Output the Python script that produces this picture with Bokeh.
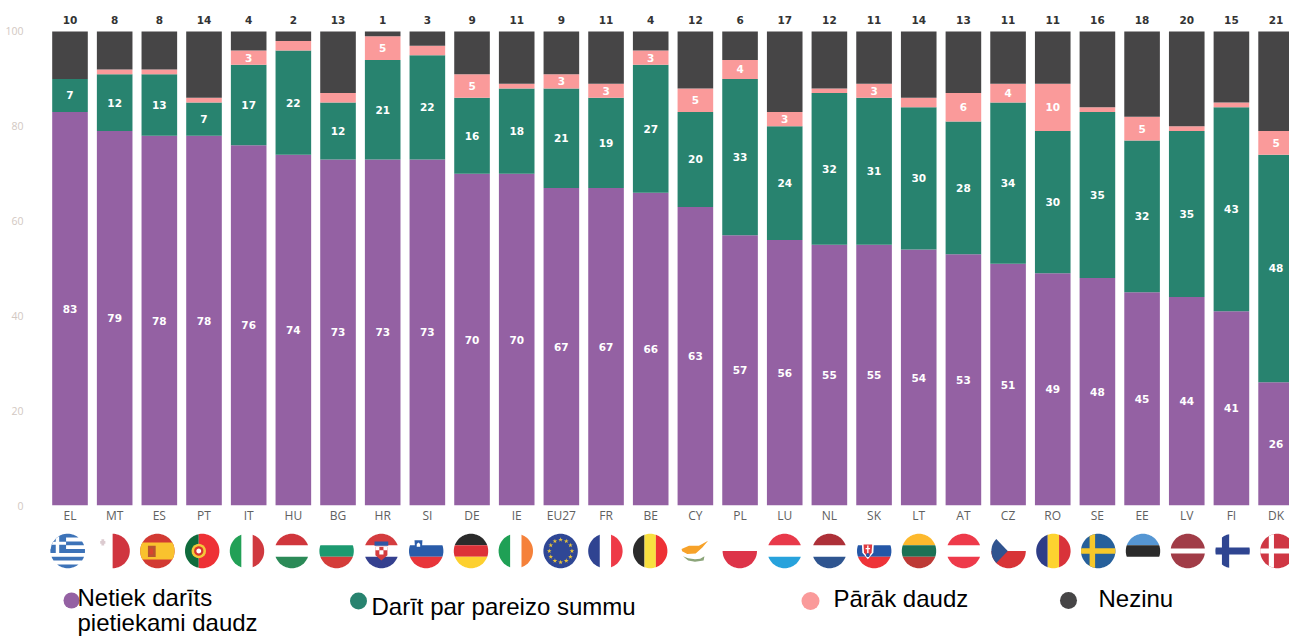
import numpy as np
from bokeh.embed import file_html
from bokeh.resources import INLINE
from bokeh.plotting import figure
from bokeh.layouts import column
from bokeh.models import Range1d, FixedTicker, ColumnDataSource
from bokeh.core.properties import value

countries = ["EL","MT","ES","PT","IT","HU","BG","HR","SI","DE","IE","EU27","FR","BE","CY","PL","LU","NL","SK","LT","AT","CZ","RO","SE","EE","LV","FI","DK"]
not_enough = [83,79,78,78,76,74,73,73,73,70,70,67,67,66,63,57,56,55,55,54,53,51,49,48,45,44,41,26]
right_amount = [7,12,13,7,17,22,12,21,22,16,18,21,19,27,20,33,24,32,31,30,28,34,30,35,32,35,43,48]
too_much = [0,1,1,1,3,2,2,5,2,5,1,3,3,3,5,4,3,1,3,2,6,4,10,1,5,1,1,5]
dont_know = [10,8,8,14,4,2,13,1,3,9,11,9,11,4,12,6,17,12,11,14,13,11,11,16,18,20,15,21]
y_ticks = [0,20,40,60,80,100]
series_names = ["Netiek darīts pietiekami daudz","Darīt par pareizo summu","Pārāk daudz","Nezinu"]
series_colors = ["#9461A3","#28836F","#FA9A9A","#464546"]

BAR_X0, BAR_PITCH = 69.5, 44.67
FRAME_L, PAGE_R = 36, 1289
x_range = Range1d((FRAME_L-BAR_X0)/BAR_PITCH, (PAGE_R-BAR_X0)/BAR_PITCH)
LABEL_FONT = "DejaVu Sans"

idx = list(range(len(countries)))
src = ColumnDataSource(dict(x=idx, a=not_enough, b=right_amount, c=too_much, d=dont_know))

p = figure(width=1289, height=528, frame_height=505, x_range=x_range, y_range=Range1d(0,106.54),
           output_backend="svg", toolbar_location=None, min_border_left=FRAME_L, min_border_right=0,
           min_border_top=0, min_border_bottom=23)
p.outline_line_color = None
p.grid.visible = False
p.background_fill_color = None
p.vbar_stack(["a","b","c","d"], x="x", width=0.797, color=series_colors, source=src, line_color=None)

p.xaxis.ticker = FixedTicker(ticks=idx)
p.xaxis.major_label_overrides = {i:c for i,c in enumerate(countries)}
p.xaxis.axis_line_color = None
p.xaxis.major_tick_line_color = None
p.xaxis.minor_tick_line_color = None
p.xaxis.major_label_standoff = -5
p.xaxis.major_label_text_font_size = "12px"
p.xaxis.major_label_text_color = "#606060"
p.xaxis.major_label_text_font = "Open Sans"
p.yaxis.ticker = FixedTicker(ticks=y_ticks)
p.yaxis.axis_line_color = None
p.yaxis.major_tick_line_color = None
p.yaxis.minor_tick_line_color = None
p.yaxis.major_label_standoff = 7
p.yaxis.major_label_text_font_size = "10.5px"
p.yaxis.major_label_text_color = "#d2c8c2"
p.yaxis.major_label_text_font = "Open Sans"

def seg_labels(xs, ys, vals, color="#ffffff", size="10.5px"):
    p.text(xs, ys, text=[str(v) for v in vals], text_align="center", text_baseline="middle",
           text_color=color, text_font=value(LABEL_FONT), text_font_style="bold", text_font_size=size)

seg_labels(idx, [v/2 for v in not_enough], not_enough)
seg_labels(idx, [a+b/2 for a,b in zip(not_enough,right_amount)], right_amount)
pk = [i for i in idx if too_much[i] >= 3]
seg_labels(pk, [not_enough[i]+right_amount[i]+too_much[i]/2 for i in pk], [too_much[i] for i in pk])
seg_labels(idx, [102.5]*len(idx), dont_know, color="#333333")

# ---- flags and legend (second figure: y in page pixels from the bottom)
H = 108
PAGE_B = 636
q = figure(width=1289, height=H, frame_height=H, x_range=x_range, y_range=Range1d(0,H),
           x_axis_type=None, y_axis_type=None, output_backend="svg", toolbar_location=None,
           min_border_left=FRAME_L, min_border_right=0, min_border_top=0, min_border_bottom=0)
q.outline_line_color = None
q.grid.visible = False
q.background_fill_color = None

FLAG_R, FLAG_CY = 17.2, PAGE_B-550.5
FLAG_X0, FLAG_PITCH = 67.3, 44.8
th = np.linspace(0, 2*np.pi, 72, endpoint=False)
CIRCLE = list(zip(np.cos(th), np.sin(th)))

def clip(subject):
    out = list(subject)
    n = len(CIRCLE)
    for k in range(n):
        a, b = CIRCLE[k], CIRCLE[(k+1) % n]
        inside = lambda P: (b[0]-a[0])*(P[1]-a[1])-(b[1]-a[1])*(P[0]-a[0]) >= 0
        cur, out = out, []
        if not cur: break
        for j in range(len(cur)):
            P, Q = cur[j], cur[(j+1) % len(cur)]
            ip, iq = inside(P), inside(Q)
            if ip != iq:
                d1 = (b[0]-a[0], b[1]-a[1]); d2 = (Q[0]-P[0], Q[1]-P[1])
                t = (d1[0]*(P[1]-a[1])-d1[1]*(P[0]-a[0]))/(d1[1]*d2[0]-d1[0]*d2[1])
                out.append((P[0]+t*d2[0], P[1]+t*d2[1]))
            if iq: out.append(Q)
    return out

def R(u0,v0,u1,v1): return [(u0,v0),(u1,v0),(u1,v1),(u0,v1)]
def H3(a,b,c,t=.34):
    return [(c_,R(-1.1,v0,1.1,v1)) for c_,v0,v1 in ((a,t,1.1),(b,-t,t),(c,-1.1,-t)) if c_]
def V3(a,b,c,t=.33):
    return [(c_,R(u0,-1.1,u1,1.1)) for c_,u0,u1 in ((a,-1.1,-t),(b,-t,t),(c,t,1.1)) if c_]
def disc(cu,cv,r,n=20):
    t = np.linspace(0,2*np.pi,n,endpoint=False)
    return [(cu+r*np.cos(x),cv+r*np.sin(x)) for x in t]

gr_blue = "#3D73B8"
flags = {
 "EL": [(gr_blue,R(-1.1,v,1.1,v+2/9)) for v in (7/9,3/9,-1/9,-5/9,-9/9)]+[(gr_blue,R(-1.1,-1/9,-.1,1.1)),("#ffffff",R(-.7,-1/9,-.5,1.1)),("#ffffff",R(-1.1,.36,-.1,.54))],
 "MT": [("#D0353F",R(0,-1.1,1.1,1.1)),("#DCCBD0",R(-.72,.42,-.42,.58)),("#DCCBD0",R(-.65,.32,-.49,.68))],
 "ES": [("#D23A33",R(-1.1,-1.1,1.1,1.1)),("#F9C22E",R(-1.1,-.5,1.1,.5)),("#B9552F",R(-.55,-.35,-.1,.3)),("#D9442E",R(-.45,-.2,-.25,.15))],
 "PT": [("#0F6B3C",R(-1.1,-1.1,-.2,1.1)),("#EE3135",R(-.2,-1.1,1.1,1.1)),("#F4C93A",disc(-.2,0,.42)),("#D9342F",disc(-.2,0,.27)),("#FFFFFF",disc(-.2,0,.14))],
 "IT": V3("#22A056",None,"#D0393F"),
 "HU": H3("#D0363C",None,"#2B8A57"),
 "BG": H3(None,"#1D9A70","#D43D3A"),
 "HR": H3("#D43C3F",None,"#34408F")+[("#D43C3F",[(-.35,.25),(.35,.25),(.35,-.25),(0,-.55),(-.35,-.25)]),("#FFFFFF",R(-.35,.05,-.12,.25)),("#FFFFFF",R(.12,.05,.35,.25)),("#FFFFFF",R(-.12,-.2,.12,.05)),("#2F57A5",R(-.4,.3,.4,.55))],
 "SI": H3(None,"#2A5CA9","#E8353A")+[("#2A5CA9",[(-.68,.62),(-.22,.62),(-.25,.15),(-.45,0),(-.65,.15)]),("#FFFFFF",[(-.55,.4),(-.45,.5),(-.35,.4),(-.35,.25),(-.55,.25)])],
 "DE": H3("#2B2B2B","#DD3138","#FDD02F"),
 "IE": V3("#1FA055",None,"#F5813A"),
 "EU27": [("#2F4795",R(-1.1,-1.1,1.1,1.1))],
 "FR": V3("#2F4391",None,"#EE3A47"),
 "BE": V3("#2B2B2B","#F8E040","#EE3135"),
 "CY": [("#F7A229",[(-.78,.12),(-.35,.31),(.23,.31),(.76,.6),(.43,.21),(.04,-.14),(-.45,-.18),(-.75,-.02)]),("#8CA57A",[(-.7,-.3),(-.4,-.55),(0,-.62),(.5,-.55),(.55,-.3),(.3,-.45),(0,-.48),(-.4,-.42)])],
 "PL": [("#DD3449",R(-1.1,-1.1,1.1,0))],
 "LU": H3("#E8394A",None,"#27A2DC"),
 "NL": H3("#AD3038",None,"#2F5590"),
 "SK": H3(None,"#2557A7","#EE3338")+[("#FFFFFF",[(-.72,.48),(-.02,.48),(-.05,-.1),(-.37,-.48),(-.69,-.1)]),("#E03A40",[(-.62,.38),(-.12,.38),(-.15,-.08),(-.37,-.36),(-.59,-.08)]),("#FFFFFF",R(-.41,-.15,-.33,.32)),("#FFFFFF",R(-.5,.1,-.24,.18)),("#2557A7",disc(-.37,-.24,.11))],
 "LT": H3("#FDB92D","#1C7155","#BD3A36"),
 "AT": H3("#EE3A4A",None,"#EE3A4A"),
 "CZ": [("#D83437",R(-1.1,-1.1,1.1,0)),("#30538F",[(-1.1,1.1),(-.05,0),(-1.1,-1.1)])],
 "RO": V3("#2E3D87","#FDD32F","#D9333A"),
 "SE": [("#26609B",R(-1.1,-1.1,1.1,1.1)),("#F6C82B",R(-.5,-1.1,-.18,1.1)),("#F6C82B",R(-1.1,-.16,1.1,.16))],
 "EE": H3("#5596D3","#2B2B2B",None),
 "LV": [("#A13C47",R(-1.1,.14,1.1,1.1)),("#A13C47",R(-1.1,-1.1,1.1,-.14))],
 "FI": [("#2F4591",R(-.62,-1.1,-.2,1.1)),("#2F4591",R(-1.1,-.2,1.1,.2))],
 "DK": [("#CF3744",R(-1.1,-1.1,1.1,1.1)),("#FFFFFF",R(-.5,-1.1,-.2,1.1)),("#FFFFFF",R(-1.1,-.15,1.1,.15))],
}

def to_x(i,u): return (FLAG_X0+FLAG_PITCH*i+FLAG_R*u-BAR_X0)/BAR_PITCH
def to_y(v): return FLAG_CY+FLAG_R*v

fx, fy, fc = [], [], []
for i,c in enumerate(countries):
    for color, poly in flags[c]:
        pts = clip(poly)
        if len(pts) < 3: continue
        fx.append([to_x(i,u) for u,_ in pts]); fy.append([to_y(v) for _,v in pts]); fc.append(color)
q.patches(fx, fy, fill_color=fc, line_color=None)

# EU stars
eu = countries.index("EU27")
a = np.linspace(0, 2*np.pi, 12, endpoint=False)
q.scatter([to_x(eu,.66*np.cos(t)) for t in a], [to_y(.66*np.sin(t)) for t in a], marker="star",
          size=5, color="#E9C53A", line_color=None)

# legend: page-pixel placement converted to this figure's coordinates
def px(x): return (x-BAR_X0)/BAR_PITCH
def py(y): return PAGE_B-y
marker_xy = [(71,600),(358,600.5),(810,600.5),(1068,600)]
marker_size = [16,17,18,17]
q.scatter([px(m[0]) for m in marker_xy],[py(m[1]) for m in marker_xy], size=marker_size,
          color=series_colors, line_color=None)
legend_items = [(77,597,"Netiek darīts"),(77,621.5,"pietiekami daudz"),(371,606,series_names[1]),(833,598,series_names[2]),(1098,598,series_names[3])]
q.text([px(t[0]) for t in legend_items],[py(t[1]) for t in legend_items],text=[t[2] for t in legend_items],
       text_font=value("Liberation Sans"),text_font_size="24px",text_color="#000000",
       text_baseline="alphabetic",text_align="left")

layout = column(p, q, spacing=0)
open("out.html","w").write(file_html(layout, INLINE))
